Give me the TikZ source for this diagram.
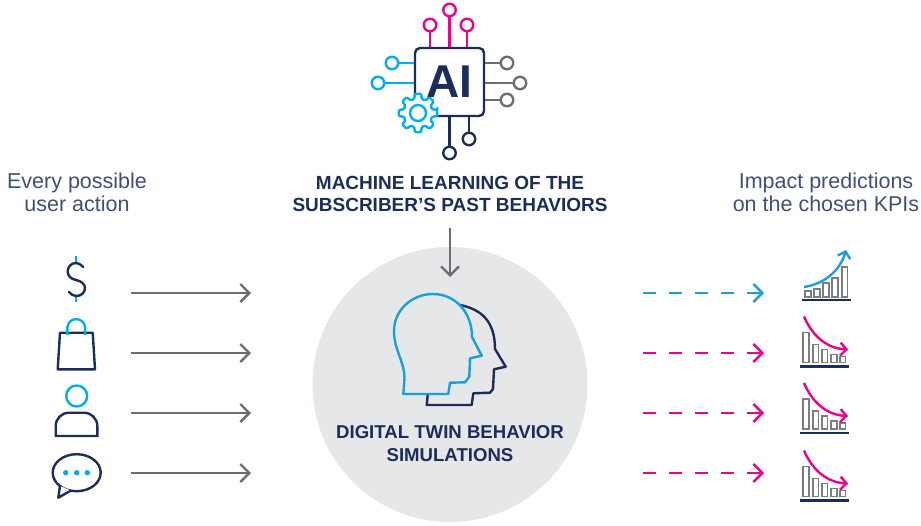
\documentclass[tikz,border=0pt]{standalone}
\usepackage{fontspec}
\setmainfont{Liberation Sans}
\usetikzlibrary{arrows.meta,shapes.geometric}
\definecolor{navy}{HTML}{1C2D5A}
\definecolor{softnavy}{HTML}{3F4F78}
\definecolor{cyan1}{HTML}{00AEEF}
\definecolor{blue1}{HTML}{1B9FDB}
\definecolor{pink1}{HTML}{EC008C}
\definecolor{gray1}{HTML}{6D6E71}
\definecolor{disc}{HTML}{E6E7E9}
\tikzset{
  barb/.style={-{Straight Barb[length=9pt,width=18pt,line width=2.4pt]}},
  smallbarb/.style={-{Straight Barb[length=6pt,width=13pt,line width=2.4pt]}},
  pin/.style={circle,draw,line width=2.4pt,fill=white,inner sep=0pt,minimum size=12.5pt},
  lead/.style={line width=2.4pt},
  head title/.style={align=center,text=navy,font=\bfseries\fontsize{19}{22.5}\selectfont},
  twin title/.style={align=center,text=navy,font=\bfseries\fontsize{18.6}{22.5}\selectfont},
  side title/.style={align=center,text=softnavy,font=\fontsize{21.5}{23}\selectfont},
  bar/.style={draw=gray1!90,line width=1.4pt},
  chartdown/.pic={
    \foreach \l/\r/\t in {3/9/-30, 13/18.5/-18, 22/27.5/-13, 31/37/-8, 40/45.5/-6}
      \draw[bar] (\l,0) rectangle (\r,\t);
    \draw[navy,line width=2.4pt] (0,4) -- (49,4);
    \draw[pink1,smallbarb,lead] (4,-46) .. controls (13,-25) and (28,-14) .. (48,-13);
  },
  chartup/.pic={
    \foreach \l/\r/\t in {3/9/-6, 12/18/-8, 21/27/-14, 30/36/-19, 40/45.5/-30}
      \draw[bar] (\l,0) rectangle (\r,\t);
    \draw[navy,line width=2.4pt] (0,3) -- (49,3);
    \draw[blue1,smallbarb,lead] (2,-10) .. controls (22,-13) and (38,-26) .. (44,-47);
  }
}
\begin{document}
\begin{tikzpicture}[x=1pt,y=-1pt]
  \useasboundingbox (0,0) rectangle (921,525);

  % disc and titles
  \node[circle,fill=disc,minimum size=275pt,inner sep=0pt] (disc) at (450,384.5) {};
  \node[head title] (mltitle) at (450,194) {MACHINE LEARNING OF THE\\SUBSCRIBER’S PAST BEHAVIORS};
  \node[twin title] (dttitle) at (450,443.5) {DIGITAL TWIN BEHAVIOR\\SIMULATIONS};
  \node[side title] (intitle) at (77,192) {Every possible\\user action};
  \node[side title] (outtitle) at (826,192) {Impact predictions\\on the chosen KPIs};

  % chip
  \node[draw=navy,line width=2.4pt,rounded corners=5pt,minimum width=69pt,minimum height=68pt,
    text=navy,font=\bfseries\fontsize{46}{46}\selectfont] (chip) at (449.5,82) {AI};
  \foreach \n/\x/\y in {p1/430/25, p2/449.5/10, p3/467/25} {
    \node[pin,draw=pink1] (\n) at (\x,\y) {};
    \draw[lead,pink1] (\n) -- (\n |- chip.north);
  }
  \foreach \n/\x/\y in {c1/392/63, c2/378/83} {
    \node[pin,draw=cyan1] (\n) at (\x,\y) {};
    \draw[lead,cyan1] (\n) -- (\n -| chip.west);
  }
  \foreach \n/\x/\y in {g1/507/63, g2/520/83, g3/507/100} {
    \node[pin,draw=gray1] (\n) at (\x,\y) {};
    \draw[lead,gray1] (\n) -- (\n -| chip.east);
  }
  \foreach \n/\x/\y in {n1/449.5/153, n2/469/139} {
    \node[pin,draw=navy] (\n) at (\x,\y) {};
    \draw[lead,navy] (\n) -- (\n |- chip.south);
  }
  % gear
  \draw[cyan1,lead,fill=white,rounded corners=1.2pt,shift={(418,113)}] (-9:19.5)
    \foreach \a in {0,45,...,315} { -- (\a-9:19.5) -- (\a+9:19.5) -- (\a+15:14.5) -- (\a+30:14.5) } -- cycle;
  \node[circle,draw=cyan1,line width=2.4pt,inner sep=0pt,minimum size=16pt] (gearhole) at (418,113) {};

  % learning arrow
  \coordinate (mlend) at (450,277);
  \draw[barb,gray1,lead] (450,228) -- (mlend);

  % heads
  \draw[navy,lead,line join=round] (460,305) .. controls (480,309) and (495,320) .. (495,349) -- (505.7,366.7) -- (494,369.3)
    -- (493,389) -- (490,392.7) -- (473.3,393.3) -- (471.7,405) -- (426.7,405) -- (427.7,395);
  \draw[blue1,lead,line join=round] (403.3,394) -- (404.5,378) .. controls (404,360) and (394,350) .. (394,331)
    .. controls (394,310) and (412,294) .. (433,294) .. controls (455,294) and (472,312) .. (472,337)
    -- (481.7,355.7) -- (470,358.3) -- (469.3,376.7) -- (465,382.3) -- (450,382.7) -- (448.3,394) -- cycle;

  % action icons
  \draw[cyan1,lead] (76,256) -- (76,263) (76,296) -- (76,302);
  \draw[navy,lead,line cap=round] (83.3,267) .. controls (80,264) and (78,263) .. (76,263)
    .. controls (71,263) and (67.7,267) .. (67.7,271.5) .. controls (67.7,276) and (71,279) .. (76,280)
    .. controls (81,281) and (85,284) .. (85,288) .. controls (85,293) and (81,296) .. (76,296)
    .. controls (73,296) and (71,294) .. (69,292);
  \draw[navy,lead,line join=round] (60,332.7) -- (92.7,332.7) -- (95,369.3) -- (57.7,369.3) -- cycle;
  \draw[cyan1,lead] (67.3,335) -- (67.3,328) arc[start angle=180,end angle=360,radius=8.9] -- (85.1,335);
  \node[circle,draw=cyan1,line width=2.4pt,inner sep=0pt,minimum size=21pt] (userhead) at (76.7,396) {};
  \draw[navy,lead] (55.7,436) -- (55.7,426) arc[start angle=180,end angle=270,radius=13.3] -- (84,412.7)
    arc[start angle=270,end angle=360,radius=13.3] -- (97.3,436) -- cycle;
  \node[ellipse,draw=navy,line width=2.4pt,inner sep=0pt,minimum width=48pt,minimum height=37pt] (bubble) at (76.7,472.7) {};
  \draw[navy,lead,fill=white,line join=round] (60,486) -- (58.3,497.7) -- (71,490.5);
  \foreach \x in {65.7,76.7,87.3}
    \fill[cyan1] (\x,472.7) circle (2.7);

  % arrows
  \foreach \n/\y in {a/293, b/353, c/413, d/473} {
    \coordinate (\n in) at (131,\y);
    \coordinate (\n mid) at (251,\y);
    \draw[barb,gray1,lead] (\n in) -- (\n mid);
  }
  \foreach \n/\y/\c in {a/293/blue1, b/353/pink1, c/413/pink1, d/473/pink1} {
    \coordinate (\n out) at (643,\y);
    \coordinate (\n end) at (764,\y);
    \draw[barb,\c,lead,dash pattern=on 13pt off 13pt] (\n out) -- (\n end);
  }

  % charts
  \pic (upchart) at (802,297) {chartup};
  \pic (dchart1) at (800,362.5) {chartdown};
  \pic (dchart2) at (800,429) {chartdown};
  \pic (dchart3) at (800,496.5) {chartdown};
\end{tikzpicture}
\end{document}
